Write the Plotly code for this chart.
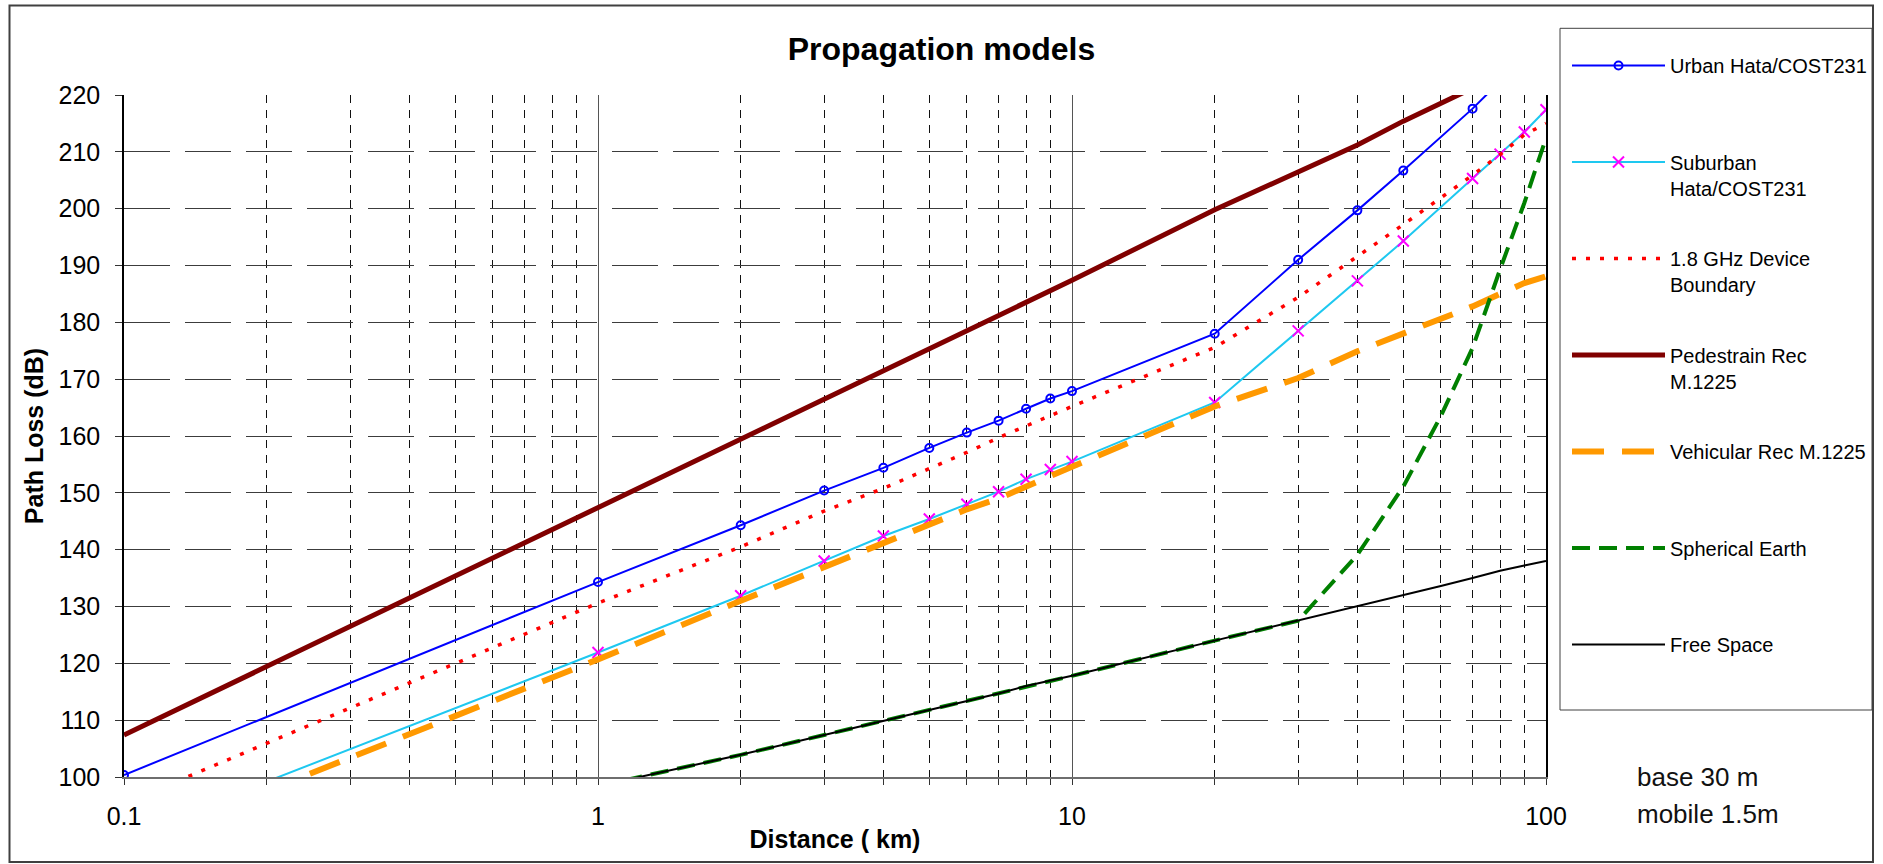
import plotly.graph_objects as go

# ---------------- data ----------------
dist_urban = [0.1, 1, 2, 3, 4, 5, 6, 7, 8, 9, 10, 20, 30, 40, 50, 70, 80]
urban = [100.35, 134.3, 144.3, 150.4, 154.4, 157.9, 160.6, 162.7, 164.8, 166.6,
         167.9, 178.0, 191.0, 199.7, 206.7, 217.6, 222.4]

dist_full = [0.1, 1, 2, 3, 4, 5, 6, 7, 8, 9, 10, 20, 30, 40, 50, 70, 80, 90, 100]
suburban = [89.4, 121.9, 131.9, 138.0, 142.4, 145.4, 148.0, 150.2, 152.4, 154.1,
            155.5, 165.9, 178.5, 187.3, 194.3, 205.3, 209.6, 213.5, 217.4]
device = [95.3, 130.6, 140.5, 146.8, 150.8, 154.3, 157.1, 159.7, 161.7, 163.5,
          165.2, 175.6, 184.4, 191.6, 197.2, 205.9, 209.5, 213.0, 215.0]
vehicular = [87.6, 120.7, 131.0, 137.0, 141.2, 144.6, 147.1, 149.0, 151.1, 153.0,
             154.6, 165.2, 170.2, 174.9, 178.1, 182.8, 185.0, 186.9, 188.1]

dist_ped = [0.1, 1, 2, 3, 4, 5, 6, 7, 8, 9, 10, 20, 30, 40, 50, 70]
pedestrian = [107.4, 147.4, 159.5, 166.5, 171.5, 175.4, 178.5, 181.2, 183.5, 185.5,
              187.4, 199.8, 206.6, 211.2, 215.4, 221.2]

dist_fs = [1, 2, 3, 4, 5, 6, 7, 8, 9, 10, 20, 30, 40, 50, 60, 70, 80, 90, 100]
free_space = [98.4, 103.9, 107.4, 109.9, 111.9, 113.4, 114.7, 116.0, 116.9, 117.8,
              124.0, 127.5, 130.1, 131.9, 133.6, 135.0, 136.3, 137.2, 138.0]
spherical = [98.4, 103.9, 107.4, 109.9, 111.9, 113.4, 114.7, 116.0, 116.9, 117.8,
             124.0, 127.5, 139.1, 151.1, 163.5, 175.5, 189.3, 201.0, 212.4]

names = ["Urban Hata/COST231<br>&nbsp;", "Suburban<br>Hata/COST231",
         "1.8 GHz Device<br>Boundary", "Pedestrain Rec<br>M.1225",
         "Vehicular Rec M.1225<br>&nbsp;", "Spherical Earth<br>&nbsp;",
         "Free Space<br>&nbsp;"]

major_x = [0.1, 1, 10, 100]
major_x_text = ["0.1", "1", "10", "100"]
minor_x = [0.2, 0.3, 0.4, 0.5, 0.6, 0.7, 0.8, 0.9,
           2, 3, 4, 5, 6, 7, 8, 9,
           20, 30, 40, 50, 60, 70, 80, 90]

# ---------------- geometry ----------------
W, H = 1883, 864
L, R, T, B = 124, 1546, 95, 777
PW, PH = R - L, B - T


def px(xp):
    return (xp - L) / PW


def py(yp):
    return (B - yp) / PH


FONT = "Liberation Sans, Arial, sans-serif"

fig = go.Figure()

fig.add_trace(go.Scatter(
    x=dist_urban, y=urban, name=names[0], legendgroup="g1", mode="lines+markers",
    line=dict(color="#0000FF", width=2),
    marker=dict(symbol="circle-open", size=8, color="#0000FF", line=dict(width=2))))
fig.add_trace(go.Scatter(
    x=dist_full, y=suburban, name=names[1], legendgroup="g2", mode="lines+markers",
    line=dict(color="#1EC8F0", width=2),
    marker=dict(symbol="x-thin", size=11, color="#FF00FF", line=dict(width=2, color="#FF00FF"))))
fig.add_trace(go.Scatter(
    x=dist_full, y=device, name=names[2], legendgroup="g3", mode="lines",
    line=dict(color="#FF0000", width=3.5, dash="4px,10px")))
fig.add_trace(go.Scatter(
    x=dist_ped, y=pedestrian, name=names[3], legendgroup="g4", mode="lines",
    line=dict(color="#800000", width=5)))
fig.add_trace(go.Scatter(
    x=dist_full, y=vehicular, name=names[4], legendgroup="g5", mode="lines",
    line=dict(color="#FF9900", width=6, dash="32px,18px")))
fig.add_trace(go.Scatter(
    x=dist_fs, y=spherical, name=names[5], legendgroup="g6", mode="lines",
    line=dict(color="#008000", width=4, dash="18px,9px")))
fig.add_trace(go.Scatter(
    x=dist_fs, y=free_space, name=names[6], legendgroup="g7", mode="lines",
    line=dict(color="#000000", width=2)))

fig.update_layout(
    width=W, height=H,
    margin=dict(l=L, r=W - R, t=T, b=H - B, pad=0, autoexpand=False),
    paper_bgcolor="white", plot_bgcolor="white",
    font=dict(family=FONT, color="black"),
    title=dict(text="<b>Propagation models</b>", font=dict(size=32, family=FONT),
               xref="container", yref="container", x=0.5, y=1 - 49 / H,
               xanchor="center", yanchor="middle"),
    showlegend=True,
    legend=dict(xref="container", yref="container", x=1567 / W, y=1 - 46 / H,
                xanchor="left", yanchor="top", bgcolor="rgba(0,0,0,0)",
                borderwidth=0, font=dict(size=20, family=FONT),
                itemwidth=93, valign="top", traceorder="grouped",
                tracegroupgap=41.5, maxheight=1000),
    xaxis=dict(type="log", range=[-1, 2], tickvals=major_x, ticktext=major_x_text,
               ticks="outside", ticklen=6, tickcolor="#333", tickwidth=1,
               showgrid=True, gridcolor="#555", gridwidth=1,
               showline=True, linecolor="#6e6e6e", linewidth=2, zeroline=False,
               tickfont=dict(size=25), ticklabelstandoff=10,
               minor=dict(tickvals=minor_x, showgrid=True, gridcolor="#111",
                          gridwidth=1, griddash="8px,7px", ticks="outside",
                          ticklen=6, tickcolor="#333"),
               title=dict(text="<b>Distance ( km)</b>", font=dict(size=25), standoff=1)),
    yaxis=dict(range=[100, 220], tick0=100, dtick=10, ticks="outside", ticklen=7,
               tickcolor="#333", showgrid=True, gridcolor="#3c3c3c", gridwidth=1.3,
               griddash="46px,15px", showline=True, linecolor="black", linewidth=1.5,
               mirror=True, zeroline=False, tickfont=dict(size=25),
               ticklabelstandoff=10,
               title=dict(text="<b>Path Loss (dB)</b>", font=dict(size=25), standoff=8)),
    shapes=[
        dict(type="rect", xref="paper", yref="paper", x0=px(9.5), x1=px(1873),
             y0=py(862), y1=py(5.5), line=dict(color="#404040", width=2), layer="below"),
        dict(type="rect", xref="paper", yref="paper", x0=px(1560), x1=px(1872),
             y0=py(710), y1=py(28.3), line=dict(color="#404040", width=1), layer="below"),
    ],
    annotations=[
        dict(text="base 30 m", xref="paper", yref="paper", x=px(1635), y=py(777),
             xanchor="left", yanchor="middle", showarrow=False,
             font=dict(size=26, color="#111")),
        dict(text="mobile 1.5m", xref="paper", yref="paper", x=px(1635), y=py(814),
             xanchor="left", yanchor="middle", showarrow=False,
             font=dict(size=26, color="#111")),
    ],
)

fig.write_html("out.html", config={"displayModeBar": False},
               post_script="document.body.style.margin='0';document.body.style.overflow='hidden';")
